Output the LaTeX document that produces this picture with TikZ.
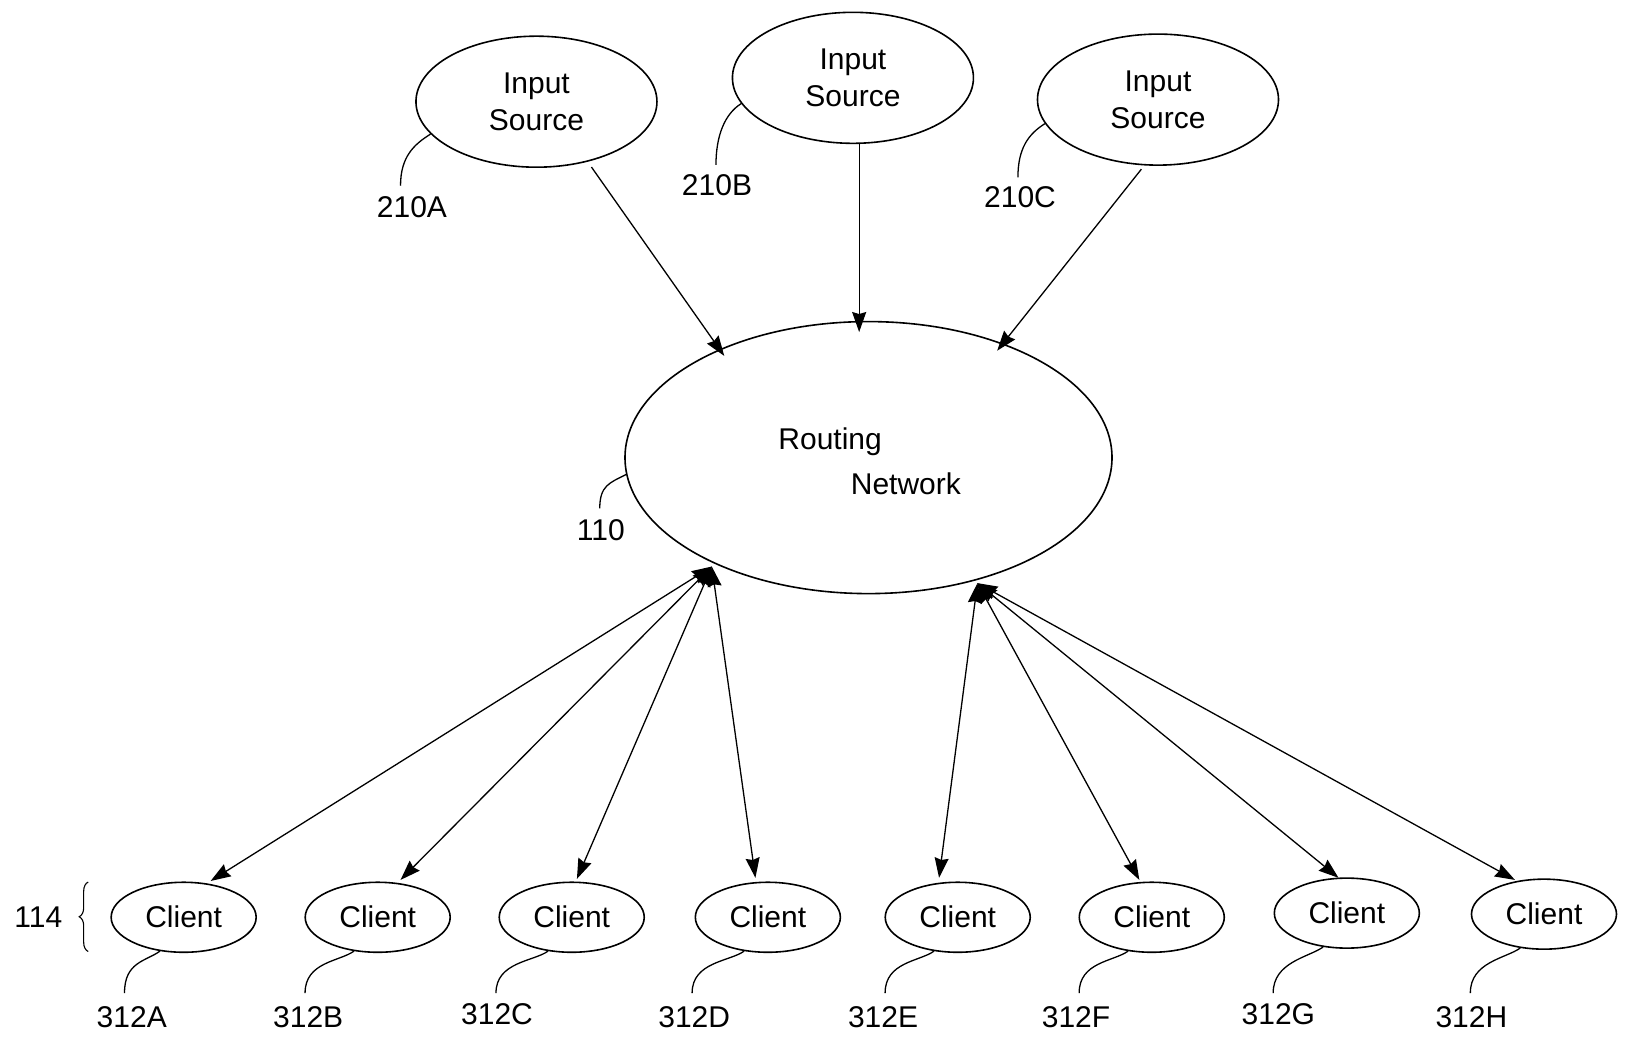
\documentclass[tikz,border=0pt]{standalone}
\usepackage{fontspec}
\setmainfont{Liberation Sans}
\usetikzlibrary{arrows.meta,shapes.geometric,decorations.pathreplacing,calc}
\begin{document}
\begin{tikzpicture}[x=1.0376pt,y=-1.0376pt,
  txt/.style={font=\fontsize{30}{37}\selectfont, inner sep=0pt},
  ell/.style={draw, ellipse, line width=1.6pt, inner sep=0pt, align=center, font=\fontsize{30}{37}\selectfont},
  inell/.style={ell, minimum width=241pt, minimum height=131pt},
  cliell/.style={ell, minimum width=145pt, minimum height=70pt},
  hook/.style={line width=1.3pt},
  tip/.style={-{Stealth[length=20pt,width=14pt,inset=2pt]}, line width=1.3pt},
  dbl/.style={{Stealth[length=20pt,width=14pt,inset=2pt]}-{Stealth[length=20pt,width=14pt,inset=2pt]}, line width=1.3pt}]
\useasboundingbox (0,0) rectangle (1568,1003);

% input sources
\node[inell] (ia) at (517,98) {Input\\Source};
\node[inell] (ib) at (822,75) {Input\\Source};
\node[inell] (ic) at (1116,96) {Input\\Source};

% routing network
\node[draw, ellipse, line width=1.6pt, minimum width=487pt, minimum height=272pt] (rn) at (837,441) {};
\node[txt] (rt1) at (800,426) {Routing};
\node[txt] (rt2) at (873,466) {Network};

% clients
\node[cliell] (c1) at (177,884) {Client};
\node[cliell] (c2) at (364,884) {Client};
\node[cliell] (c3) at (551,884) {Client};
\node[cliell] (c4) at (740,884) {Client};
\node[cliell] (c5) at (923,884) {Client};
\node[cliell] (c6) at (1110,884) {Client};
\node[cliell] (c7) at (1298,880) {Client};
\node[cliell] (c8) at (1488,881) {Client};

% input arrows
\coordinate (ta) at (570,161);
\coordinate (ha) at (698,343);
\coordinate (tb) at (828,138);
\coordinate (hb) at (828,320);
\coordinate (tc) at (1100,163);
\coordinate (hc) at (961,338);
\draw[tip] (ta) -- (ha);
\draw[tip] (tb) -- (hb);
\draw[tip] (tc) -- (hc);

% client arrows
\coordinate (pl) at (686,546);
\coordinate (pr) at (942,562);
\coordinate (e1) at (203,849);
\coordinate (e2) at (386,848);
\coordinate (e3) at (556,847);
\coordinate (e4) at (728,846);
\coordinate (e5) at (905,846);
\coordinate (e6) at (1098,848);
\coordinate (e7) at (1290,846);
\coordinate (e8) at (1460,848);
\foreach \e in {e1,e2,e3,e4}{\draw[dbl] (pl) -- (\e);}
\foreach \e in {e5,e6,e7,e8}{\draw[dbl] (pr) -- (\e);}

% reference labels
\node[txt] (l210a) at (397,200) {210A};
\node[txt] (l210b) at (691,178) {210B};
\node[txt] (l210c) at (983,190) {210C};
\node[txt] (l110) at (579,511) {110};
\coordinate (h210a) at (386,179);
\coordinate (h210b) at (690,159);
\coordinate (h210c) at (981,171);
\coordinate (h110) at (578,490);
\draw[hook] (ia.-163) .. controls ($(ia.-163)+(-16,10)$) and ($(h210a)+(0,-28)$) .. (h210a);
\draw[hook] (ib.-167) .. controls ($(ib.-167)+(-16,10)$) and ($(h210b)+(0,-28)$) .. (h210b);
\draw[hook] (ic.-168) .. controls ($(ic.-168)+(-16,10)$) and ($(h210c)+(0,-28)$) .. (h210c);
\draw[hook] (rn.-176) .. controls ($(rn.-176)+(-16,8)$) and ($(h110)+(0,-22)$) .. (h110);

\foreach \c/\lab/\lx/\ly/\hx in {c1/312A/127/980/120, c2/312B/297/980/294, c3/312C/479/977/478, c4/312D/669/980/667, c5/312E/851/980/853, c6/312F/1037/980/1040, c7/312G/1232/977/1227, c8/312H/1418/980/1417}{
  \node[txt] (l\lab) at (\lx,\ly) {\lab};
  \coordinate (h\lab) at (\hx,957);
  \draw[hook] (\c.-125) .. controls ($(\c.-125)+(-14,10)$) and ($(h\lab)+(0,-30)$) .. (h\lab);
}

% brace 114
\draw[line width=1.1pt, decorate, decoration={brace, amplitude=9pt}] (85,917) -- (85,850);
\node[txt] (l114) at (37,884) {114};
\end{tikzpicture}
\end{document}
